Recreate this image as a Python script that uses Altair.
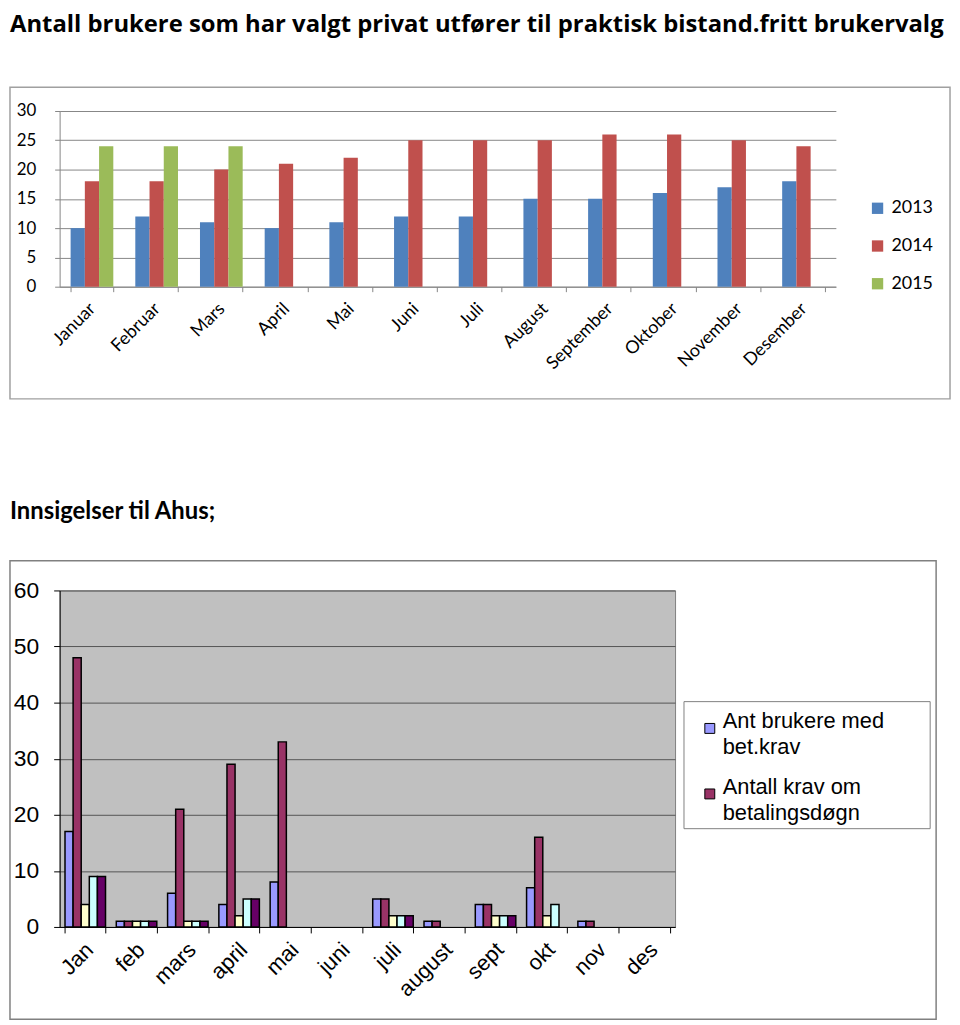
import altair as alt
import pandas as pd

# ---------------- data ----------------
TITLE_TOP = "Antall brukere som har valgt privat utfører til praktisk bistand.fritt brukervalg"
TITLE_BOTTOM = "Innsigelser til Ahus;"

months_top = ["Januar", "Februar", "Mars", "April", "Mai", "Juni", "Juli",
              "August", "September", "Oktober", "November", "Desember"]
series_top = ["2013", "2014", "2015"]
v2013 = [10, 12, 11, 10, 11, 12, 12, 15, 15, 16, 17, 18]
v2014 = [18, 18, 20, 21, 22, 25, 25, 25, 26, 26, 25, 24]
v2015 = [24, 24, 24, None, None, None, None, None, None, None, None, None]
colors_top = ["#4F81BD", "#C0504D", "#9BBB59"]
ticks_top = [0, 5, 10, 15, 20, 25, 30]

months_bot = ["Jan", "feb", "mars", "april", "mai", "juni", "juli",
              "august", "sept", "okt", "nov", "des"]
series_bot = ["Ant brukere med bet.krav", "Antall krav om betalingsdøgn",
              "Serie 3", "Serie 4", "Serie 5"]
s1 = [17, 1, 6, 4, 8, None, 5, 1, 4, 7, 1, None]
s2 = [48, 1, 21, 29, 33, None, 5, 1, 4, 16, 1, None]
s3 = [4, 1, 1, 2, None, None, 2, None, 2, 2, None, None]
s4 = [9, 1, 1, 5, None, None, 2, None, 2, 4, None, None]
s5 = [9, 1, 1, 5, None, None, 2, None, 2, None, None, None]
colors_bot = ["#9999FF", "#993366", "#FFFFCC", "#CCFFFF", "#660066"]
ticks_bot = [0, 10, 20, 30, 40, 50, 60]

FONT_C = "Lato"
FONT_A = "Liberation Sans"

# ---------------- tables ----------------
rows = []
for s, vals in zip(series_top, [v2013, v2014, v2015]):
    for m, v in zip(months_top, vals):
        if v is not None:
            rows.append({"month": m, "series": s, "value": v})
top_df = pd.DataFrame(rows)

rows = []
for s, vals in zip(series_bot, [s1, s2, s3, s4, s5]):
    for m, v in zip(months_bot, vals):
        if v is not None:
            rows.append({"month2": m, "series2": s, "value2": v})
bot_df = pd.DataFrame(rows)

one = pd.DataFrame({"k": [0]})

# ---------------- top chart ----------------
W1, H1 = 782, 177
top_bars = alt.Chart(top_df).mark_bar().encode(
    x=alt.X("month:N", sort=months_top,
            scale=alt.Scale(domain=months_top, paddingInner=0.34, paddingOuter=0.17),
            axis=alt.Axis(title=None, labelAngle=-45, labelFont=FONT_C, labelFontSize=18,
                          labelColor="#000000", domainColor="#868686", tickColor="#868686",
                          tickBand="extent", tickSize=5, labelPadding=8, labelOffset=-6,
                          grid=False)),
    xOffset=alt.XOffset("series:N", scale=alt.Scale(domain=series_top)),
    y=alt.Y("value:Q", scale=alt.Scale(domain=[0, 30]),
            axis=alt.Axis(title=None, values=ticks_top, labelFont=FONT_C, labelFontSize=17,
                          labelColor="#000000", domainColor="#868686", tickColor="#868686",
                          tickSize=5, labelPadding=19, gridColor="#868686", gridWidth=1)),
    color=alt.Color("series:N", scale=alt.Scale(domain=series_top, range=colors_top),
                    legend=alt.Legend(title=None, orient="none", legendX=815, legendY=89,
                                      symbolType="square", symbolSize=130, symbolStrokeWidth=0,
                                      labelFont=FONT_C, labelFontSize=18, labelColor="#000000",
                                      rowPadding=20, labelOffset=5, padding=0)),
)
top_frame = alt.Chart(one).mark_rect(fill="transparent", stroke="#A0A0A0", strokeWidth=1.5).encode(
    x=alt.value(-50), x2=alt.value(897), y=alt.value(-24), y2=alt.value(290))
top_title = alt.Chart(one).mark_text(align="left", baseline="top", font="Open Sans",
                                     fontSize=24, fontWeight="bold", color="#000000").encode(
    x=alt.value(-50), y=alt.value(-99), text=alt.value(TITLE_TOP))
top_chart = alt.layer(top_frame, top_bars, top_title).properties(
    width=W1, height=H1, view=alt.ViewBackground(stroke="transparent"))

# ---------------- bottom chart ----------------
W2, H2 = 620, 339
bot_bars = alt.Chart(bot_df).mark_bar(stroke="#000000", strokeWidth=1.5).encode(
    x=alt.X("month2:N", sort=months_bot,
            scale=alt.Scale(domain=months_bot, paddingInner=0.21, paddingOuter=0.105),
            axis=alt.Axis(title=None, labelAngle=-45, labelFont=FONT_A, labelFontSize=22,
                          labelColor="#000000", domainColor="#000000", tickColor="#000000",
                          tickBand="extent", tickSize=6, labelPadding=6, labelOffset=-3,
                          grid=False)),
    xOffset=alt.XOffset("series2:N", scale=alt.Scale(domain=series_bot)),
    y=alt.Y("value2:Q", scale=alt.Scale(domain=[0, 60]),
            axis=alt.Axis(title=None, values=ticks_bot, labelFont=FONT_A, labelFontSize=23,
                          labelColor="#000000", domainColor="#000000", tickColor="#000000",
                          tickSize=6, labelPadding=15, gridColor="#555555", gridWidth=1)),
    color=alt.Color("series2:N", scale=alt.Scale(domain=series_bot, range=colors_bot),
                    legend=alt.Legend(title=None, orient="none", legendX=644, legendY=128,
                                      values=series_bot[:2],
                                      labelExpr="datum.label == 'Ant brukere med bet.krav' ? ['Ant brukere med', 'bet.krav'] : ['Antall krav om', 'betalingsdøgn']",
                                      symbolType="square", symbolSize=100,
                                      symbolStrokeColor="#000000", symbolStrokeWidth=1,
                                      labelFont=FONT_A, labelFontSize=22, labelColor="#000000",
                                      labelBaseline="alphabetic", rowPadding=18, labelOffset=2,
                                      labelLimit=300, padding=0)),
)
bot_frame = alt.Chart(one).mark_rect(fill="transparent", stroke="#808080", strokeWidth=1.5).encode(
    x=alt.value(-50), x2=alt.value(883), y=alt.value(-30), y2=alt.value(432))
legend_box = alt.Chart(one).mark_rect(fill="#FFFFFF", stroke="#808080", strokeWidth=1).encode(
    x=alt.value(629), x2=alt.value(877), y=alt.value(112), y2=alt.value(240))
bot_title = alt.Chart(one).mark_text(align="left", baseline="top", font=FONT_C,
                                     fontSize=24, fontWeight="bold", color="#000000").encode(
    x=alt.value(-50), y=alt.value(-91), text=alt.value(TITLE_BOTTOM))
bot_chart = alt.layer(bot_frame, legend_box, bot_bars, bot_title).properties(
    width=W2, height=H2, view=alt.ViewBackground(fill="#C0C0C0", stroke="#808080"))

chart = alt.ConcatChart(concat=[top_chart, bot_chart], columns=1, align="none",
                        spacing=99, padding=0, background="#FFFFFF",
                        config={"style": {"guide-label": {"lineHeight": 26}}}
).resolve_scale(color="independent", x="independent", y="independent", xOffset="independent")

chart.save("out.html", embed_options={"renderer": "svg", "actions": False})
